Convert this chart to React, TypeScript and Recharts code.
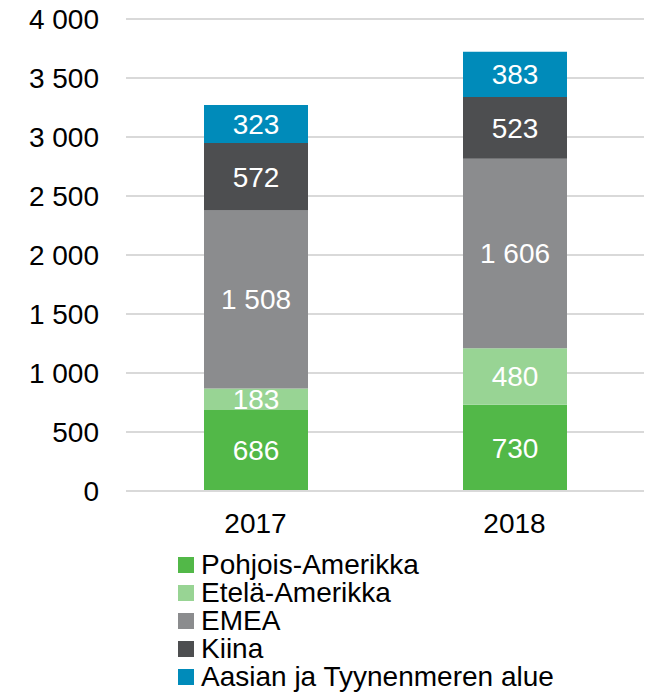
import { BarChart, Bar, XAxis, YAxis, CartesianGrid, Legend, LabelList } from "recharts";

const years = ["2017", "2018"];
const pohjoisAmerikka = [686, 730];
const etelaAmerikka = [183, 480];
const emea = [1508, 1606];
const kiina = [572, 523];
const aasia = [323, 383];
const yTicks = [0, 500, 1000, 1500, 2000, 2500, 3000, 3500, 4000];

const SERIES = [
  { key: "pohjois", name: "Pohjois-Amerikka", color: "#52B848", values: pohjoisAmerikka },
  { key: "etela", name: "Etelä-Amerikka", color: "#98D494", values: etelaAmerikka },
  { key: "emea", name: "EMEA", color: "#8B8C8E", values: emea },
  { key: "kiina", name: "Kiina", color: "#4D4E50", values: kiina },
  { key: "aasia", name: "Aasian ja Tyynenmeren alue", color: "#008BBA", values: aasia },
];

const data = years.map((year, i) => {
  const row: Record<string, string | number> = { year };
  SERIES.forEach((s) => {
    row[s.key] = s.values[i];
  });
  return row;
});

const fmt = (n: number | string) => String(n).replace(/\B(?=(\d{3})+(?!\d))/g, " ");

const FONT = "'Liberation Sans', Arial, sans-serif";

const LegendContent = () => (
  <div style={{ fontFamily: FONT, fontSize: 28, color: "#000", textAlign: "left" }}>
    {SERIES.map((s) => (
      <div key={s.key} style={{ display: "flex", alignItems: "center", height: 28, whiteSpace: "nowrap" }}>
        <span style={{ width: 16, height: 16, background: s.color, marginRight: 7, display: "inline-block", flex: "none" }} />
        <span>{s.name}</span>
      </div>
    ))}
  </div>
);

export default function App() {
  return (
    <div style={{ position: "absolute", left: 0, top: 0, width: 649, height: 693, background: "#fff" }}>
      <BarChart
        width={649}
        height={693}
        data={data}
        margin={{ top: 19, right: 5, bottom: 142, left: 0 }}
        barSize={104}
      >
        <CartesianGrid vertical={false} stroke="#D9D9D9" strokeWidth={2} />
        <XAxis
          dataKey="year"
          tickLine={false}
          axisLine={{ stroke: "#D9D9D9", strokeWidth: 2 }}
          tickSize={0}
          tickMargin={22}
          tick={{ fill: "#000", fontSize: 28, fontFamily: FONT }}
          height={60}
        />
        <YAxis
          width={126}
          domain={[0, 4000]}
          ticks={yTicks}
          interval={0}
          axisLine={false}
          tickLine={false}
          tickSize={0}
          tickMargin={27}
          tickFormatter={fmt}
          tick={{ fill: "#000", fontSize: 28, fontFamily: FONT }}
        />
        {SERIES.map((s) => (
          <Bar key={s.key} dataKey={s.key} name={s.name} stackId="a" fill={s.color} isAnimationActive={false}>
            <LabelList
              dataKey={s.key}
              position="center"
              formatter={fmt}
              fill="#fff"
              style={{ fontSize: 28, fontFamily: FONT }}
            />
          </Bar>
        ))}
        <Legend
          content={<LegendContent />}
          layout="vertical"
          verticalAlign="middle"
          align="center"
          wrapperStyle={{ left: 178, top: 551, width: 470 }}
        />
      </BarChart>
    </div>
  );
}
